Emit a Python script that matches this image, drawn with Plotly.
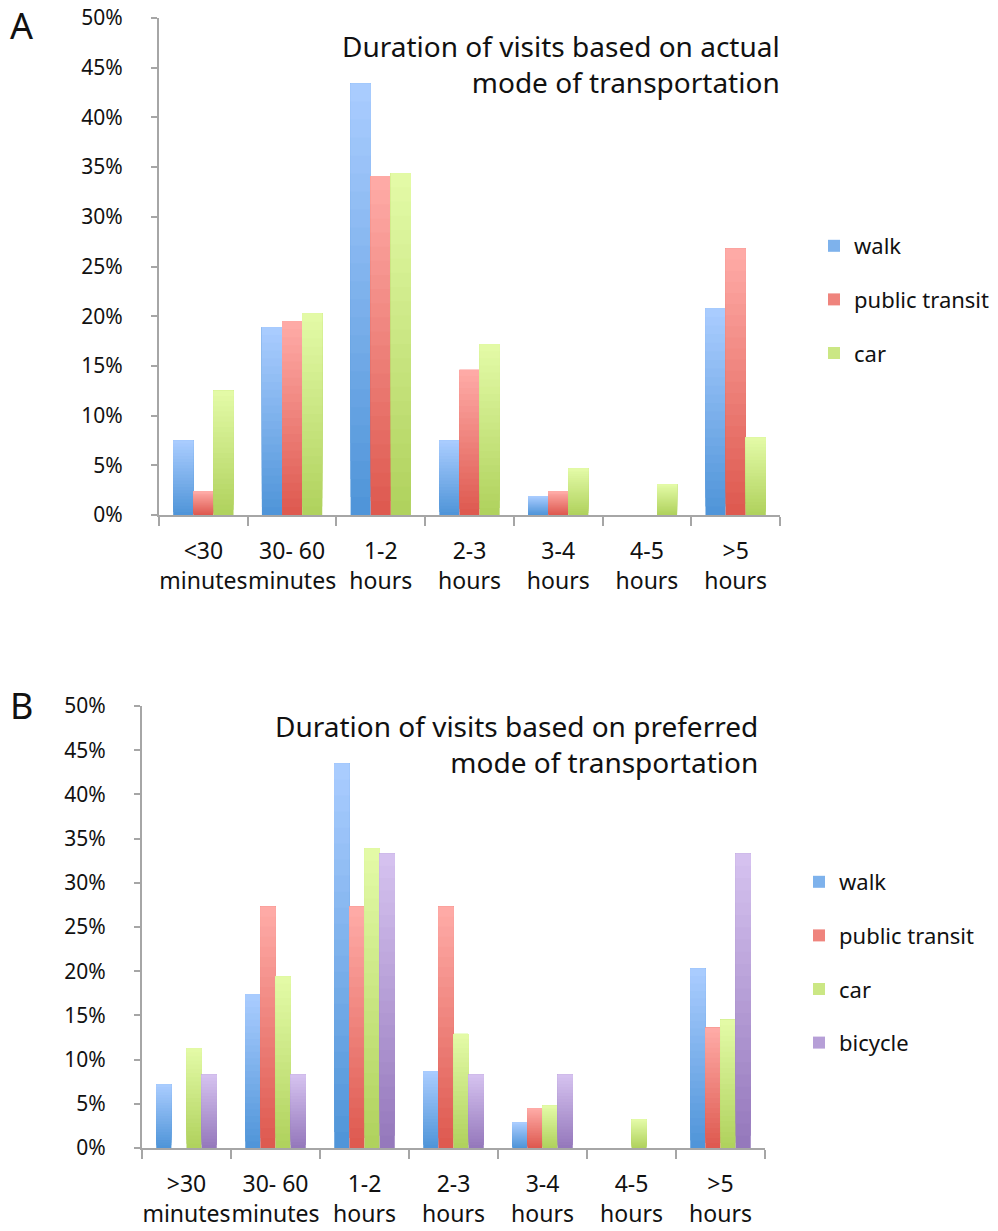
import plotly.graph_objects as go

# ---------------- data ----------------
categories_a = ["&lt;30<br>minutes", "30- 60<br>minutes", "1-2<br>hours", "2-3<br>hours",
                "3-4<br>hours", "4-5<br>hours", "&gt;5<br>hours"]
categories_b = ["&gt;30<br>minutes", "30- 60<br>minutes", "1-2<br>hours", "2-3<br>hours",
                "3-4<br>hours", "4-5<br>hours", "&gt;5<br>hours"]

a_walk = [7.5, 18.9, 43.4, 7.5, 1.9, 0.0, 20.8]
a_transit = [2.4, 19.5, 34.1, 14.6, 2.4, 0.0, 26.8]
a_car = [12.5, 20.3, 34.4, 17.2, 4.7, 3.1, 7.8]

b_walk = [7.2, 17.4, 43.5, 8.7, 2.9, 0.0, 20.3]
b_transit = [0.0, 27.3, 27.3, 27.3, 4.5, 0.0, 13.6]
b_car = [11.3, 19.4, 33.9, 12.9, 4.8, 3.2, 14.5]
b_bicycle = [8.3, 8.3, 33.3, 8.3, 8.3, 0.0, 33.3]

series_names = ["walk", "public transit", "car", "bicycle"]
title_a = "Duration of visits based on actual<br>mode of transportation"
title_b = "Duration of visits based on preferred<br>mode of transportation"

# ---------------- styles ----------------
W, H = 998, 1231
FONT = "Noto Sans"
# (top colour, bottom colour) of each gradient
grad = {
    "walk": ((171, 205, 255), (78, 148, 216)),
    "public transit": ((255, 172, 168), (221, 88, 78)),
    "car": ((228, 251, 168), (175, 209, 92)),
    "bicycle": ((214, 195, 240), (148, 119, 187)),
}
NSEG = 24


def mix(c_bot, c_top, t):
    return "rgb(%d,%d,%d)" % tuple(round(b + (tp - b) * t) for b, tp in zip(c_bot, c_top))


def px(x):
    return x / W


def py(y):
    return 1 - y / H


fig = go.Figure()


def add_series(name, cats, vals, xa, ya, legend):
    top, bot = grad[name]
    pct = [v / 100 for v in vals]
    for k in range(NSEG):
        t = (k + 0.5) / NSEG
        # each layer runs from its own start up to the bar top; the next layer
        # paints over the upper part, giving a seamless vertical gradient
        fig.add_trace(go.Bar(
            x=cats,
            y=[p * (NSEG - k) / NSEG for p in pct],
            base=[p * k / NSEG for p in pct],
            offsetgroup=name,
            legendgroup=name + legend,
            name=name,
            showlegend=(k == NSEG // 2),
            legend=legend,
            marker=dict(color=mix(bot, top, t), line=dict(width=0)),
            xaxis=xa, yaxis=ya,
            hovertemplate=name + ": %{customdata:.1f}%<extra></extra>",
            customdata=vals,
        ))


for nm, vals in zip(series_names[:3], [a_walk, a_transit, a_car]):
    add_series(nm, categories_a, vals, "x", "y", "legend")
for nm, vals in zip(series_names, [b_walk, b_transit, b_car, b_bicycle]):
    add_series(nm, categories_b, vals, "x2", "y2", "legend2")

axis_color = "#a6a6a6"
ytickfont = dict(family=FONT, size=21, color="#111111")
xtickfont = dict(family=FONT, size=23, color="#111111")

xcommon = dict(type="category", showline=True, linecolor=axis_color, linewidth=2,
               ticks="outside", tickson="boundaries", ticklen=9, tickwidth=2,
               tickcolor=axis_color, tickfont=xtickfont, showgrid=False, zeroline=False,
               tickangle=0, ticklabelstandoff=14, automargin=False, fixedrange=True)
ycommon = dict(range=[0, 0.5], dtick=0.05, tickformat=".0%", showline=True,
               linecolor=axis_color, linewidth=2, ticks="outside", ticklen=6, tickwidth=2,
               tickcolor=axis_color, tickfont=ytickfont, showgrid=False, zeroline=False,
               ticklabelstandoff=24, automargin=False, fixedrange=True)

fig.update_layout(
    width=W, height=H,
    margin=dict(l=0, r=0, t=0, b=0, autoexpand=False),
    paper_bgcolor="white", plot_bgcolor="white",
    barmode="group", bargap=0.32, bargroupgap=0,
    font=dict(family=FONT, color="#111111"),
    xaxis=dict(domain=[px(159), px(780)], anchor="y", **xcommon),
    yaxis=dict(domain=[py(515), py(18)], anchor="x", **ycommon),
    xaxis2=dict(domain=[px(142), px(765)], anchor="y2", **xcommon),
    yaxis2=dict(domain=[py(1148), py(706)], anchor="x2", **ycommon),
    legend=dict(x=px(814), y=py(225), xanchor="left", yanchor="top",
                font=dict(family=FONT, size=22, color="#111111"),
                tracegroupgap=22, bgcolor="rgba(0,0,0,0)"),
    legend2=dict(x=px(799), y=py(861), xanchor="left", yanchor="top",
                 font=dict(family=FONT, size=22, color="#111111"),
                 tracegroupgap=22, bgcolor="rgba(0,0,0,0)"),
    annotations=[
        dict(text=title_a, xref="paper", yref="paper", x=px(782), y=py(25),
             xanchor="right", yanchor="top", align="right", showarrow=False,
             font=dict(family=FONT, size=28, color="#111111")),
        dict(text=title_b, xref="paper", yref="paper", x=px(760), y=py(705),
             xanchor="right", yanchor="top", align="right", showarrow=False,
             font=dict(family=FONT, size=28, color="#111111")),
        dict(text="A", xref="paper", yref="paper", x=px(8), y=py(25),
             xanchor="left", yanchor="middle", showarrow=False,
             font=dict(family=FONT, size=36, color="#111111")),
        dict(text="B", xref="paper", yref="paper", x=px(8), y=py(705),
             xanchor="left", yanchor="middle", showarrow=False,
             font=dict(family=FONT, size=36, color="#111111")),
    ],
)

fig.write_html("out.html", config={"displayModeBar": False},
               post_script="document.body.style.margin='0';")
